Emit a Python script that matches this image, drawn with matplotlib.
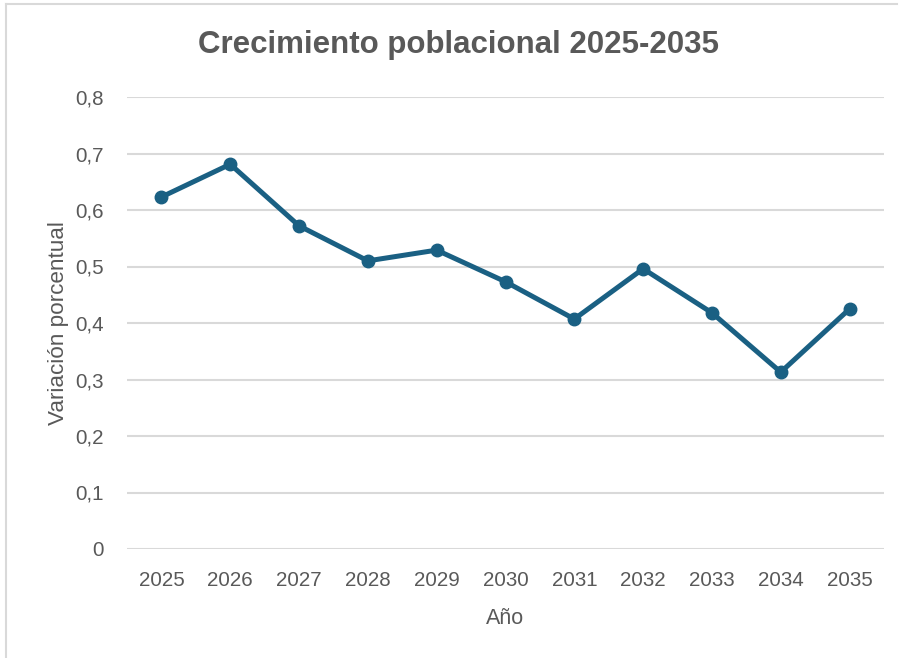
import matplotlib
matplotlib.use("Agg")
import matplotlib.pyplot as plt
from matplotlib.lines import Line2D
from matplotlib.ticker import FuncFormatter

years = ["2025", "2026", "2027", "2028", "2029", "2030", "2031", "2032", "2033", "2034", "2035"]
values = [0.623, 0.681, 0.572, 0.510, 0.529, 0.473, 0.407, 0.496, 0.418, 0.313, 0.425]
yticks = [0, 0.1, 0.2, 0.3, 0.4, 0.5, 0.6, 0.7, 0.8]

title = "Crecimiento poblacional 2025-2035"
xlabel = "Año"
ylabel = "Variación porcentual"

line_color = "#1a6083"
text_color = "#595959"
grid_color = "#d9d9d9"
fam = ["Liberation Sans", "DejaVu Sans"]

fig = plt.figure(figsize=(8.99, 6.58), dpi=100)
fig.patch.set_facecolor("white")

# outer chart frame (top and left edges visible)
fig.add_artist(Line2D([6 / 899, 6 / 899], [0, 1 - 4 / 658], transform=fig.transFigure,
                      color="#d9d9d9", linewidth=1.5))
fig.add_artist(Line2D([6 / 899, 897 / 899], [1 - 4 / 658, 1 - 4 / 658], transform=fig.transFigure,
                      color="#d9d9d9", linewidth=1.5))

ax = fig.add_axes([127 / 899, 1 - 549 / 658, (884 - 127) / 899, (549 - 97) / 658])
x = list(range(len(years)))
ax.plot(x, values, color=line_color, linewidth=3.6, marker="o", markersize=9,
        solid_capstyle="round", solid_joinstyle="round", zorder=3)

ax.set_xlim(-0.5, len(years) - 0.5)
ax.set_ylim(0, 0.8)
ax.set_yticks(yticks)
ax.yaxis.set_major_formatter(FuncFormatter(lambda v, p: "0" if v == 0 else f"{v:.1f}".replace(".", ",")))
ax.set_xticks(x)
ax.set_xticklabels(years)

for s in ax.spines.values():
    s.set_visible(False)
ax.grid(axis="y", color=grid_color, linewidth=1.5)
ax.set_axisbelow(True)
ax.tick_params(axis="both", length=0, colors=text_color, labelsize=14.8)
ax.tick_params(axis="y", pad=17)
ax.tick_params(axis="x", pad=15.5)
for lab in ax.get_xticklabels() + ax.get_yticklabels():
    lab.set_family(fam)

ax.set_xlabel(xlabel, color=text_color, fontsize=15.5, family=fam, labelpad=13)
ax.set_ylabel(ylabel, color=text_color, fontsize=16.2, family=fam, labelpad=4)

fig.text(459 / 899, 1 - 45 / 658, title, ha="center", va="center", color=text_color,
         fontsize=22.5, fontweight="bold", family=fam)

fig.savefig("out.png", dpi=100, facecolor="white")
